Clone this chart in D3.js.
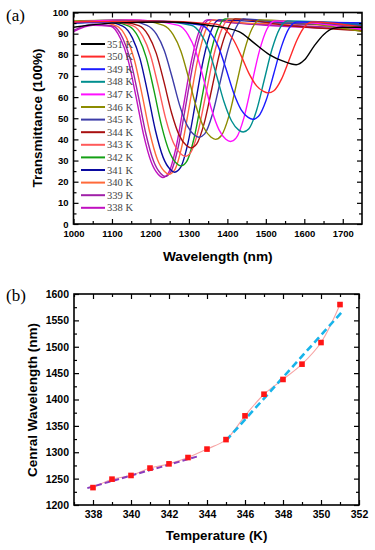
<!DOCTYPE html>
<html>
<head>
<meta charset="utf-8">
<script src="https://cdn.jsdelivr.net/npm/d3@7"></script>
<style>
body { margin: 0; background: #fff; }
svg { display: block; }
</style>
</head>
<body>
<div id="chart"></div>
<script>
// ---- panel (a) data: transmittance spectra per temperature ----
var temps = [351, 350, 349, 348, 347, 346, 345, 344, 343, 342, 341, 340, 339, 338];
var spectrumColors = ["#000000", "#ff2a2a", "#1c1cff", "#008f8f", "#ff10ff", "#8c8c00", "#3c3ca8",
    "#a81010", "#ff5a5a", "#14a014", "#0a0aa0", "#ff6a3a", "#a020a8", "#c010c0"];

var spec351 = [[1000,93],[1100,95],[1250,95.5],[1350,94],[1430,91],[1470,85.5],[1510,80],[1545,77],[1579,75.3],[1600,77.5],[1625,84],[1650,89.5],[1675,92.5],[1700,93],[1750,93]];
var spec350 = [[1000,95.5],[1200,96],[1370,94.5],[1396,91.7],[1416,87],[1436,79.5],[1456,71.2],[1476,65.3],[1494,62.7],[1506,62],[1521,63],[1541,68.6],[1561,77.8],[1581,87],[1601,93.4],[1621,95.5],[1750,93]];
var spec349 = [[1000,95],[1200,96],[1331,94.1],[1356,90.5],[1376,84.1],[1396,73.6],[1416,62.2],[1436,54],[1454,50.4],[1466,49.5],[1481,50.9],[1501,58.6],[1521,71.3],[1541,84.1],[1561,92.7],[1581,95.5],[1750,95]];
var spec348 = [[1000,95],[1200,96],[1306,94],[1331,89.9],[1351,82.6],[1371,70.8],[1391,57.9],[1411,48.7],[1429,44.5],[1441,43.5],[1456,45],[1476,53.8],[1496,68.2],[1516,82.6],[1536,92.4],[1556,96],[1750,94.5]];
var spec347 = [[1000,95.5],[1150,96.5],[1273,93.9],[1298,89.4],[1318,81.6],[1338,68.7],[1358,54.7],[1378,44.6],[1396,40.1],[1408,39],[1423,40.7],[1443,50.2],[1463,65.9],[1483,81.6],[1503,92.2],[1523,96],[1750,92]];
var spec346 = [[1000,96],[1150,96.5],[1234,93.9],[1259,89.5],[1279,81.8],[1299,69.2],[1319,55.4],[1339,45.5],[1357,41.1],[1369,40],[1384,41.7],[1404,51],[1424,66.4],[1444,81.8],[1464,92.3],[1484,96.5],[1750,91]];
var spec345 = [[1000,95.5],[1120,96.5],[1191,93.9],[1216,89.6],[1236,82],[1256,69.6],[1276,56.1],[1296,46.4],[1314,42.1],[1326,41],[1341,42.6],[1361,51.8],[1381,66.9],[1401,82],[1421,92.3],[1441,97],[1550,95],[1750,94]];
var spec344 = [[1000,95.5],[1100,96],[1170,93.8],[1195,89.1],[1215,80.8],[1235,67.3],[1255,52.5],[1275,41.9],[1293,37.2],[1305,36],[1320,37.8],[1340,47.8],[1360,64.3],[1380,80.8],[1400,92],[1420,97],[1550,94],[1750,91.5]];
var spec343 = [[1000,95],[1090,96],[1155,93.7],[1180,88.7],[1200,79.9],[1220,65.4],[1240,49.6],[1260,38.3],[1278,33.3],[1290,32],[1305,33.9],[1325,44.6],[1345,62.2],[1365,79.9],[1385,91.9],[1405,97],[1550,95],[1750,93.5]];
var spec342 = [[1000,95.5],[1080,96],[1144,93.6],[1169,88.2],[1189,78.8],[1209,63.3],[1229,46.4],[1249,34.3],[1267,28.8],[1279,27.5],[1294,29.5],[1314,41],[1334,59.9],[1354,78.8],[1374,91.6],[1394,97],[1550,95.5],[1750,95]];
var spec341 = [[1000,95.5],[1070,96],[1128,93.6],[1153,88],[1173,78.1],[1193,61.9],[1213,44.2],[1233,31.5],[1251,25.9],[1263,24.5],[1278,26.6],[1298,38.6],[1318,58.3],[1338,78.1],[1358,91.5],[1378,96.5],[1550,95],[1750,94.5]];
var spec340 = [[1000,95],[1060,95.5],[1113,93.6],[1138,87.9],[1158,77.8],[1178,61.4],[1198,43.5],[1218,30.6],[1236,24.9],[1248,23.5],[1263,25.6],[1283,37.8],[1303,57.8],[1323,77.8],[1343,91.4],[1363,96.5],[1450,95],[1750,94]];
var spec339 = [[1000,91.5],[1050,94.5],[1103,93.6],[1128,87.8],[1148,77.6],[1168,60.9],[1188,42.8],[1208,29.8],[1226,24],[1238,22.5],[1253,24.7],[1273,37],[1293,57.3],[1313,77.6],[1333,91.4],[1353,96.5],[1420,95],[1550,94],[1750,92.5]];
var spec338 = [[1000,91],[1050,94],[1097,93.5],[1122,87.7],[1142,77.5],[1162,60.7],[1182,42.4],[1202,29.3],[1220,23.5],[1232,22],[1247,24.2],[1267,36.6],[1287,57],[1307,77.5],[1327,91.4],[1347,96.5],[1400,95.5],[1500,94],[1600,93],[1750,92]];
var spectra = [spec351, spec350, spec349, spec348, spec347, spec346, spec345, spec344, spec343, spec342, spec341, spec340, spec339, spec338];

var wlTicks = [1000, 1100, 1200, 1300, 1400, 1500, 1600, 1700];
var transTicks = [0, 10, 20, 30, 40, 50, 60, 70, 80, 90, 100];

// ---- panel (b) data: central wavelength vs temperature ----
var fitTemps = [338, 339, 340, 341, 342, 343, 344, 345, 346, 347, 348, 349, 350, 351];
var centerWavelengths = [1233, 1249, 1256, 1270, 1278, 1290, 1306, 1324, 1369, 1410, 1438, 1467, 1508, 1580];
var lowFit = [[337.7, 1232], [343.5, 1292]];
var highFit = [[345, 1322], [351.2, 1570]];
var tempTicks = [338, 340, 342, 344, 346, 348, 350, 352];
var cwTicks = [1200, 1250, 1300, 1350, 1400, 1450, 1500, 1550, 1600];

var svg = d3.select("#chart").append("svg")
    .attr("width", 375)
    .attr("height", 550);

var sansBold = "'Liberation Sans', Arial, sans-serif";
var serif = "'Liberation Serif', 'Times New Roman', serif";
var plainNum = d3.format("d");

function drawAxes(g, x, y, w, h, xMajor, xMinor, yMajor, yMinor, fontSize, xPad, yPad) {
    // minor ticks, all four sides, pointing in
    g.append("g").attr("transform", "translate(0," + h + ")")
        .call(d3.axisBottom(x).tickValues(xMinor).tickSize(-3).tickFormat(""));
    g.append("g")
        .call(d3.axisTop(x).tickValues(xMinor).tickSize(-3).tickFormat(""));
    g.append("g")
        .call(d3.axisLeft(y).tickValues(yMinor).tickSize(-3).tickFormat(""));
    g.append("g").attr("transform", "translate(" + w + ",0)")
        .call(d3.axisRight(y).tickValues(yMinor).tickSize(-3).tickFormat(""));
    // major ticks
    g.append("g").attr("class", "lab").attr("transform", "translate(0," + h + ")")
        .call(d3.axisBottom(x).tickValues(xMajor).tickSize(-5).tickPadding(xPad).tickFormat(plainNum));
    g.append("g")
        .call(d3.axisTop(x).tickValues(xMajor).tickSize(-5).tickFormat(""));
    g.append("g").attr("class", "lab")
        .call(d3.axisLeft(y).tickValues(yMajor).tickSize(-5).tickPadding(yPad).tickFormat(plainNum));
    g.append("g").attr("transform", "translate(" + w + ",0)")
        .call(d3.axisRight(y).tickValues(yMajor).tickSize(-5).tickFormat(""));

    g.selectAll(".domain").remove();
    g.selectAll(".tick line").attr("stroke", "#000").attr("stroke-width", 1.2);
    g.selectAll(".lab text")
        .attr("fill", "#000")
        .style("font-family", sansBold)
        .style("font-weight", "bold")
        .style("font-size", fontSize + "px");

    g.append("rect")
        .attr("width", w)
        .attr("height", h)
        .attr("fill", "none")
        .attr("stroke", "#000")
        .attr("stroke-width", 1.6);
}

// ================= panel (a) =================
var aBox = { left: 73.5, top: 12.5, width: 288.5, height: 211.5 };
var gA = svg.append("g").attr("transform", "translate(" + aBox.left + "," + aBox.top + ")");

var xA = d3.scaleLinear().domain([1000, 1750]).range([0, aBox.width]);
var yA = d3.scaleLinear().domain([0, 100]).range([aBox.height, 0]);

svg.append("clipPath").attr("id", "clipA")
    .append("rect").attr("width", aBox.width).attr("height", aBox.height);

var specLine = d3.line()
    .x(function(d) { return xA(d[0]); })
    .y(function(d) { return yA(d[1]); })
    .curve(d3.curveMonotoneX);

var curvesA = gA.append("g").attr("clip-path", "url(#clipA)");
for (var i = spectra.length - 1; i >= 0; i--) {
    curvesA.append("path")
        .attr("d", specLine(spectra[i]))
        .attr("fill", "none")
        .attr("stroke", spectrumColors[i])
        .attr("stroke-width", 1.4);
}

drawAxes(gA, xA, yA, aBox.width, aBox.height,
    wlTicks, d3.range(1050, 1750, 100),
    transTicks, d3.range(5, 100, 10), 9.5, 6.5, 5);

// legend
var legend = svg.append("g").attr("transform", "translate(81,44)");
temps.forEach(function(t, i) {
    var row = legend.append("g").attr("transform", "translate(0," + (i * 12.6) + ")");
    row.append("line")
        .attr("x1", 0).attr("x2", 24)
        .attr("stroke", spectrumColors[i])
        .attr("stroke-width", 2);
    row.append("text")
        .attr("x", 26)
        .attr("y", 3.6)
        .text(t + " K")
        .style("font-family", serif)
        .style("font-size", "10.5px")
        .attr("fill", "#444");
});

svg.append("text")
    .attr("x", 217.8).attr("y", 261)
    .attr("text-anchor", "middle")
    .style("font-family", sansBold).style("font-weight", "bold").style("font-size", "13.7px")
    .text("Wavelength (nm)");
svg.append("text")
    .attr("transform", "translate(42,118) rotate(-90)")
    .attr("text-anchor", "middle")
    .style("font-family", sansBold).style("font-weight", "bold").style("font-size", "13.5px")
    .text("Transmittance (100%)");
svg.append("text")
    .attr("x", 6).attr("y", 21)
    .style("font-family", serif).style("font-size", "17px")
    .text("(a)");

// ================= panel (b) =================
var bBox = { left: 74, top: 294, width: 285, height: 211 };
var gB = svg.append("g").attr("transform", "translate(" + bBox.left + "," + bBox.top + ")");

var xB = d3.scaleLinear().domain([337, 352]).range([0, bBox.width]);
var yB = d3.scaleLinear().domain([1200, 1600]).range([bBox.height, 0]);

var pts = fitTemps.map(function(t, i) { return [t, centerWavelengths[i]]; });

var lineB = d3.line()
    .x(function(d) { return xB(d[0]); })
    .y(function(d) { return yB(d[1]); });

gB.append("path")
    .attr("d", lineB.curve(d3.curveCatmullRom)(pts))
    .attr("fill", "none")
    .attr("stroke", "#f7a5a5")
    .attr("stroke-width", 1.1);

lineB.curve(d3.curveLinear);
gB.append("path")
    .attr("d", lineB(lowFit))
    .attr("fill", "none")
    .attr("stroke", "#8b3cbc")
    .attr("stroke-width", 2)
    .attr("stroke-dasharray", "6,3");
gB.append("path")
    .attr("d", lineB(highFit))
    .attr("fill", "none")
    .attr("stroke", "#18b4ea")
    .attr("stroke-width", 2.6)
    .attr("stroke-dasharray", "7,4");

gB.selectAll("rect.pt")
    .data(pts)
    .enter().append("rect")
    .attr("class", "pt")
    .attr("x", function(d) { return xB(d[0]) - 2.8; })
    .attr("y", function(d) { return yB(d[1]) - 2.8; })
    .attr("width", 5.6)
    .attr("height", 5.6)
    .attr("fill", "#ff1515");

drawAxes(gB, xB, yB, bBox.width, bBox.height,
    tempTicks, d3.range(337, 352, 2),
    cwTicks, d3.range(1225, 1600, 50), 10.5, 6, 5);

svg.append("text")
    .attr("x", 216.5).attr("y", 540)
    .attr("text-anchor", "middle")
    .style("font-family", sansBold).style("font-weight", "bold").style("font-size", "13.3px")
    .text("Temperature (K)");
svg.append("text")
    .attr("transform", "translate(37,400) rotate(-90)")
    .attr("text-anchor", "middle")
    .style("font-family", sansBold).style("font-weight", "bold").style("font-size", "13.5px")
    .text("Cenral Wavelength (nm)");
svg.append("text")
    .attr("x", 6).attr("y", 301)
    .style("font-family", serif).style("font-size", "17px")
    .text("(b)");
</script>
</body>
</html>
